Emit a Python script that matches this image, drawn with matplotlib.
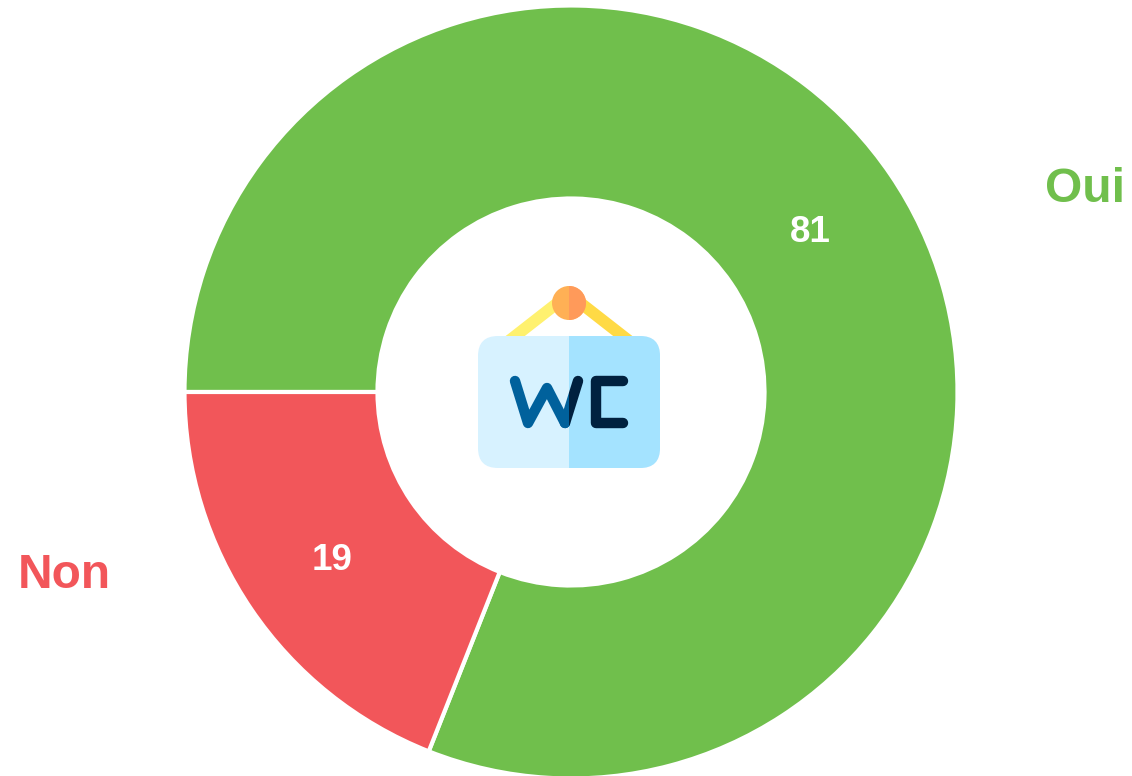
import numpy as np
import matplotlib
matplotlib.use('Agg')
import matplotlib.pyplot as plt
from matplotlib.patches import FancyBboxPatch, Rectangle, Circle

plt.rcParams['font.family'] = ['Liberation Sans', 'DejaVu Sans']

# Data
labels = ['Oui', 'Non']
values = [81, 19]
colors = ['#70BF4C', '#F2565A']

W, H = 1132, 776
fig = plt.figure(figsize=(W / 100, H / 100), dpi=100)
# axes in pixel units, y pointing down like the picture
ax = fig.add_axes([0, 0, 1, 1])

cx, cy, r = 571, 392, 386.5
# y axis is inverted so counterclock=True runs clockwise on screen
ax.pie(values, colors=colors, center=(cx, cy), radius=r, startangle=180,
       counterclock=True, frame=True,
       wedgeprops=dict(width=193, edgecolor='white', linewidth=3))
ax.set_xlim(0, W)
ax.set_ylim(H, 0)
ax.set_aspect('equal')
ax.axis('off')

# value labels
ax.text(810, 233, str(values[0]), color='white', fontsize=26.5, fontweight='bold', ha='center', va='center')
ax.text(332, 560, str(values[1]), color='white', fontsize=26.5, fontweight='bold', ha='center', va='center')

# category labels
ax.text(1085, 189, labels[0], color=colors[0], fontsize=34.5, fontweight='bold', ha='center', va='center')
ax.text(64, 576, labels[1], color=colors[1], fontsize=34.5, fontweight='bold', ha='center', va='center')

# WC sign icon: strings, board, pin
ax.plot([505, 569], [344, 294], color='#FFF16F', lw=8.5, solid_capstyle='butt', zorder=2)
ax.plot([569, 633], [294, 344], color='#FFDA45', lw=8.5, solid_capstyle='butt', zorder=2)
sign = FancyBboxPatch((478, 336), 182, 132, boxstyle='round,pad=0,rounding_size=20',
                      fc='#D7F2FF', ec='none', zorder=3)
ax.add_patch(sign)
right = FancyBboxPatch((478, 336), 182, 132, boxstyle='round,pad=0,rounding_size=20',
                       fc='#A4E3FF', ec='none', zorder=4)
ax.add_patch(right)
right.set_clip_path(Rectangle((569, 330), 100, 145, transform=ax.transData))
dot = Circle((569, 303), 17, fc='#FFB055', ec='none', zorder=4)
ax.add_patch(dot)
dot2 = Circle((569, 303), 17, fc='#FF9A5A', ec='none', zorder=5)
ax.add_patch(dot2)
dot2.set_clip_path(Rectangle((569, 280), 20, 40, transform=ax.transData))

# W and C strokes, the part of the W past the fold is dark
ax.plot([515, 528, 547, 565], [381, 423, 388, 423], color='#00619C', lw=7.5, zorder=6,
        solid_capstyle='round', solid_joinstyle='round')
dark = ax.plot([565, 578], [423, 381], color='#00213F', lw=7.5, zorder=6, solid_capstyle='round')[0]
dark.set_clip_path(Rectangle((569, 370), 20, 65, transform=ax.transData))
blue = ax.plot([565, 578], [423, 381], color='#00619C', lw=7.5, zorder=6, solid_capstyle='round')[0]
blue.set_clip_path(Rectangle((555, 370), 14, 65, transform=ax.transData))
ax.plot([623, 596, 596, 623], [381, 381, 423, 423], color='#00213F', lw=7.5, zorder=6,
        solid_capstyle='round', solid_joinstyle='round')

fig.savefig('out.png', dpi=100)
